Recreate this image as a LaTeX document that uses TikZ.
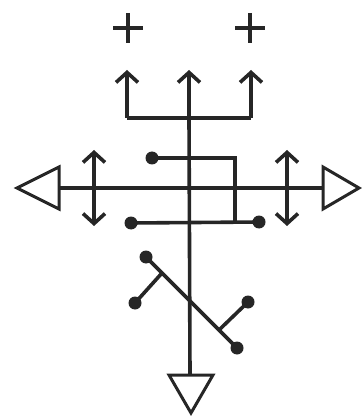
\documentclass[tikz,border=0pt]{standalone}
\usetikzlibrary{arrows.meta}
\begin{document}
\begin{tikzpicture}[x=1pt,y=-1pt,
  ln/.style={line width=3.6pt,draw=black!85},
  tri/.style={line width=3pt,draw=black!85,line join=miter},
  arr/.style={ln,-{Straight Barb[length=10pt,width=22pt]}},
  darr/.style={ln,{Straight Barb[length=10pt,width=22pt]}-{Straight Barb[length=10pt,width=22pt]}},
  dotn/.style={circle,fill=black!85,inner sep=0pt,minimum size=13pt}]
\useasboundingbox (0,0) rectangle (361,419);
% coordinates
\coordinate (topc) at (189,70);
\coordinate (topl) at (127,70);
\coordinate (topr) at (251,70);
\coordinate (barl) at (127,118);
\coordinate (barr) at (251,118);
\coordinate (barc) at (189,118);
\coordinate (bot) at (190,375);
\coordinate (hl) at (59,188);
\coordinate (hr) at (323,188);
% plus signs
\draw[ln] (113,28) -- (143,28) (128,13) -- (128,43);
\draw[ln] (235,28) -- (265,28) (250,13) -- (250,43);
% top fork
\draw[arr] (barc) -- (topc);
\draw[ln] (barl) -- (barr);
\draw[arr] (barl) -- (topl);
\draw[arr] (barr) -- (topr);
% main vertical
\draw[ln] (barc) -- (bot);
% horizontal
\draw[ln] (hl) -- (hr);
\draw[tri] (hl) ++(0,-21) -- (17,188) -- (59,209) -- cycle;
\draw[tri] (hr) ++(0,-21) -- (359,188) -- (323,209) -- cycle;
\draw[tri] (169,375) -- (213,375) -- (191,413) -- cycle;
% double arrows
\coordinate (la1) at (94,150); \coordinate (la2) at (94,226);
\coordinate (ra1) at (287,150); \coordinate (ra2) at (287,226);
\draw[darr] (la1) -- (la2);
\draw[darr] (ra1) -- (ra2);
% dots and hooked line
\node[dotn] (d1) at (152,158) {};
\node[dotn] (d2) at (131,223) {};
\node[dotn] (d3) at (259,222) {};
\coordinate (k1) at (235,158);
\coordinate (k2) at (235,222);
\draw[ln] (d1.center) -- (k1) -- (k2);
\draw[ln] (d2.center) -- (d3.center);
% bottom diagonal
\node[dotn] (d4) at (146,257) {};
\node[dotn] (d5) at (237,348) {};
\node[dotn] (d6) at (135,303) {};
\node[dotn] (d7) at (248,302) {};
\coordinate (j1) at (162,273);
\coordinate (j2) at (219,330);
\draw[ln] (d4.center) -- (d5.center);
\draw[ln] (d6.center) -- (j1);
\draw[ln] (d7.center) -- (j2);
\end{tikzpicture}
\end{document}
